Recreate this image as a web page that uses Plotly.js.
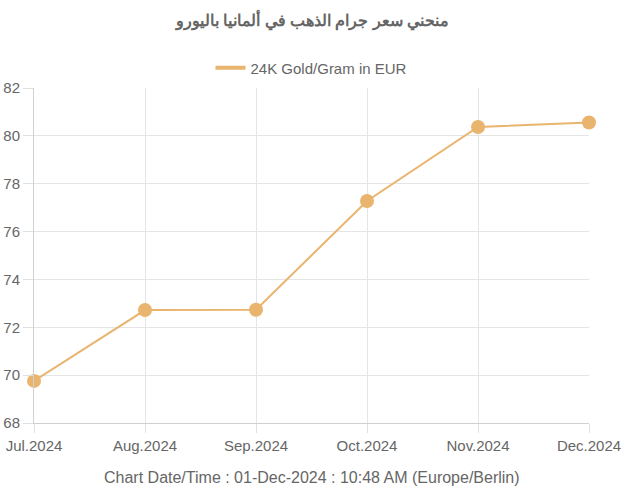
<!DOCTYPE html>
<html><head><meta charset="utf-8">
<script src="https://cdn.plot.ly/plotly-3.0.1.min.js"></script>
<style>body{margin:0;background:#fff}#c{width:625px;height:500px}</style>
</head><body><div id="c"></div>
<script>
const months = ["Jul.2024","Aug.2024","Sep.2024","Oct.2024","Nov.2024","Dec.2024"];
const prices = [69.76, 72.72, 72.73, 77.28, 80.37, 80.56];
const seriesName = "24K Gold/Gram in EUR";
const chartTitle = "منحني سعر جرام الذهب في ألمانيا باليورو";
const footer = "Chart Date/Time : 01-Dec-2024 : 10:48 AM (Europe/Berlin)";
const yTicks = [68,70,72,74,76,78,80,82];

const col = "rgb(233,180,110)";
const idx = months.map((m,i)=>i);
Plotly.newPlot("c", [{
  x: idx, y: prices, type: "scatter", mode: "lines+markers",
  name: seriesName, cliponaxis: false, showlegend: false, legendgroup: "g",
  line: {color: col, width: 2},
  marker: {color: col, size: 14}
}, {
  x: [null], y: [null], type: "scatter", mode: "lines", name: seriesName,
  legendgroup: "g", showlegend: true, line: {color: col, width: 4}
}], {
  width: 625, height: 500,
  margin: {l: 34, r: 36, t: 88, b: 77},
  font: {family: "Liberation Sans, Arial, sans-serif", color: "#666", size: 15},
  title: {text: "<b>" + chartTitle + "</b>", x: 0.5, xanchor: "center", y: 0.96, yanchor: "middle",
          font: {size: 16, color: "#666"}},
  showlegend: true,
  legend: {orientation: "h", x: 0.5, xanchor: "center", y: 1.06, yanchor: "middle", font: {size: 15, color: "#666"}},
  xaxis: {range: [0, 5], tickvals: idx, ticktext: months, showgrid: true, gridcolor: "#e5e5e5",
          zeroline: false, showline: true, linecolor: "#d0d0d0", ticks: "outside", ticklen: 9, tickcolor: "#e0e0e0"},
  yaxis: {range: [68, 82], tickvals: yTicks, showgrid: true, gridcolor: "#e5e5e5", zeroline: false,
          showline: true, linecolor: "#d0d0d0", ticks: "outside", ticklen: 10, tickcolor: "#e0e0e0", ticklabelstandoff: 0},
  annotations: [{text: footer, xref: "paper", yref: "paper", x: 0.5, y: -0.162, xanchor: "center", yanchor: "middle",
                 showarrow: false, font: {size: 16, color: "#666"}}],
  plot_bgcolor: "#fff", paper_bgcolor: "#fff"
}, {displayModeBar: false, staticPlot: true});
</script></body></html>
